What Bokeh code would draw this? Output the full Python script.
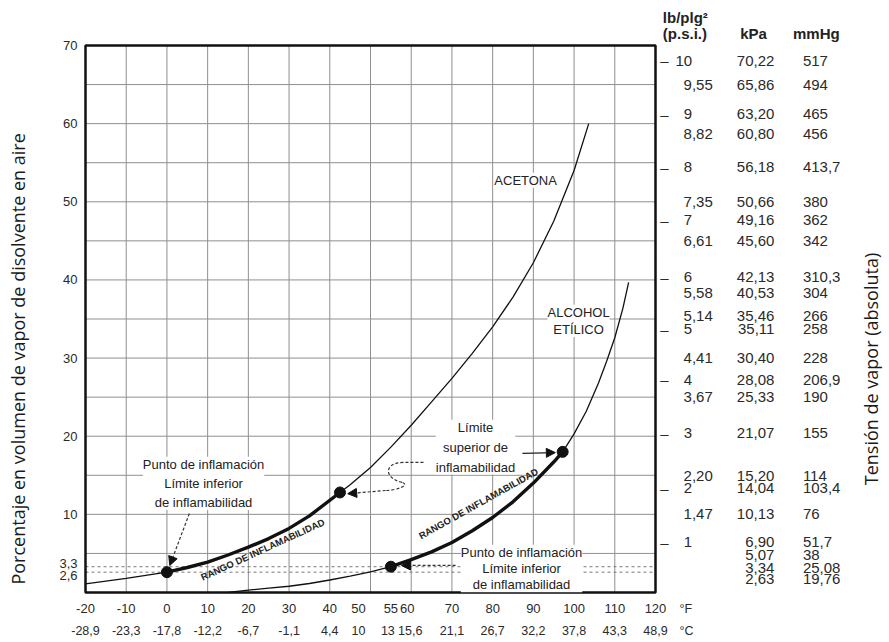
import math
from bokeh.plotting import figure
from bokeh.models import (ColumnDataSource, LabelSet, Label, Arrow, NormalHead, Range1d)
from bokeh.core.properties import value
from bokeh.embed import file_html
from bokeh.resources import INLINE

# ---------------- data ----------------
# vapour concentration curves (°F, % volume of vapour in air)
acetone_F = [-20, -10, 0, 5, 10, 15, 20, 25, 30, 35, 42.5, 45, 50, 55, 60, 65, 70, 75,
             80, 85, 90, 95, 100, 103.6]
acetone_pct = [1.1, 1.8, 2.6, 3.2, 3.9, 4.8, 5.8, 6.9, 8.2, 9.8, 12.8, 13.8, 16.0, 18.6,
               21.4, 24.4, 27.4, 30.6, 34.0, 37.8, 42.2, 47.5, 54.0, 60.0]
ethanol_F = [15, 20, 25, 30, 35, 40, 45, 50, 55, 60, 65, 70, 75, 80, 85, 90, 95, 97.2,
             100, 103, 106, 108, 110, 112, 113.4]
ethanol_pct = [0.0, 0.3, 0.55, 0.8, 1.15, 1.6, 2.1, 2.65, 3.3, 4.2, 5.2, 6.4, 7.9, 9.6,
               11.6, 14.0, 16.7, 18.0, 20.3, 23.2, 26.8, 29.6, 32.6, 36.4, 39.7]

# flammability points (°F, %)
acetone_flash = (0, 2.6)
acetone_upper = (42.5, 12.8)
ethanol_flash = (55, 3.3)
ethanol_upper = (97.2, 18.0)

# x tick labels
f_ticks = [-20, -10, 0, 10, 20, 30, 40, 50, 55, 60, 70, 80, 90, 100, 110, 120]
c_labels = ["-28,9", "-23,3", "-17,8", "-12,2", "-6,7", "-1,1", "4,4", "10", "13",
            "15,6", "21,1", "26,7", "32,2", "37,8", "43,3", "48,9"]
# y tick labels
y_ticks = [10, 20, 30, 40, 50, 60, 70, 3.3, 2.6]
# grid
x_grid = [-10, 0, 10, 20, 30, 40, 50, 60, 70, 80, 90, 100, 110]
y_grid = [5, 10, 15, 20, 25, 30, 35, 40, 45, 50, 55, 60, 65]

# vapour-pressure table
psi_vals = [10, 9.55, 9, 8.82, 8, 7.35, 7, 6.61, 6, 5.58, 5.14, 5, 4.41, 4, 3.67, 3,
            2.20, 2, 1.47, 1, None, None, None]
kpa_vals = [70.22, 65.86, 63.20, 60.80, 56.18, 50.66, 49.16, 45.60, 42.13, 40.53, 35.46,
            35.11, 30.40, 28.08, 25.33, 21.07, 15.20, 14.04, 10.13, 6.90, 5.07, 3.34, 2.63]
mmhg_vals = [517, 494, 465, 456, 413.7, 380, 362, 342, 310.3, 304, 266, 258, 228, 206.9,
             190, 155, 114, 103.4, 76, 51.7, 38, 25.08, 19.76]

# ---------------- helpers ----------------
def dec(v, nd=None):
    s = f"{v:.{nd}f}" if nd is not None else f"{v:g}"
    return s.replace(".", ",")

W, H = 889, 642
X0, X1, Y0, Y1 = -20, 120, 0, 70
# chart box in page pixels: left 85, right 655, top 45, bottom 592
XS = 570 / (X1 - X0)
YS = 547 / (Y1 - Y0)
x_range = Range1d(X0 - 85 / XS, X1 + (W - 655) / XS)
y_range = Range1d(Y0 - (H - 592) / YS, Y1 + 45 / YS)

TICKFONT = "Liberation Sans"
TXT = "#2a2a2a"
GRID = "#8f8f8f"

p = figure(width=W, height=H, x_range=x_range, y_range=y_range,
           x_axis_type=None, y_axis_type=None, output_backend="svg", toolbar_location=None,
           min_border=0)
p.outline_line_color = None
p.background_fill_color = "white"
p.border_fill_color = "white"

# grid
p.segment(x0=x_grid, y0=[Y0] * len(x_grid), x1=x_grid, y1=[Y1] * len(x_grid),
          line_color=GRID, line_width=1)
p.segment(x0=[X0] * len(y_grid), y0=y_grid, x1=[X1] * len(y_grid), y1=y_grid,
          line_color=GRID, line_width=1)
lv = [acetone_flash[1], ethanol_flash[1]]
p.segment(x0=[X0, X0], y0=lv, x1=[X1, X1], y1=lv, line_color="#777777",
          line_dash="3 3", line_width=1)

# curves
p.line(acetone_F, acetone_pct, line_color="#111111", line_width=1.3)
p.line(ethanol_F, ethanol_pct, line_color="#111111", line_width=1.3)

def segment(xs, ys, lo, hi):
    pts = [(x, y) for x, y in zip(xs, ys) if lo <= x <= hi]
    return [a for a, _ in pts], [b for _, b in pts]

ax, ay = segment(acetone_F, acetone_pct, acetone_flash[0], acetone_upper[0])
ex, ey = segment(ethanol_F, ethanol_pct, ethanol_flash[0], ethanol_upper[0])
p.line(ax, ay, line_color="#111111", line_width=3.4, line_join="round")
p.line(ex, ey, line_color="#111111", line_width=3.4, line_join="round")

# chart box
p.quad(left=[X0], right=[X1], bottom=[Y0], top=[Y1], fill_color=None,
       line_color="#111111", line_width=2.5)

pts_x = [acetone_flash[0], acetone_upper[0], ethanol_flash[0], ethanol_upper[0]]
pts_y = [acetone_flash[1], acetone_upper[1], ethanol_flash[1], ethanol_upper[1]]
p.scatter(pts_x, pts_y, size=11, color="#111111")

# ---------------- axis tick labels ----------------
xoff_f = {50: -12, 60: -4}
xoff_c = {50: -12, 55: -3, 60: -1}
xsrc = ColumnDataSource(dict(
    x=f_ticks, y=[Y0] * len(f_ticks),
    ft=[str(v) for v in f_ticks], ct=c_labels,
    xf=[xoff_f.get(v, 0) for v in f_ticks],
    xc=[xoff_c.get(v, 0) for v in f_ticks]))
p.add_layout(LabelSet(x="x", y="y", text="ft", source=xsrc, x_offset="xf", y_offset=-16,
                      text_align="center", text_baseline="middle",
                      text_font=value(TICKFONT), text_font_size="13px", text_color=TXT))
p.add_layout(LabelSet(x="x", y="y", text="ct", source=xsrc, x_offset="xc", y_offset=-38,
                      text_align="center", text_baseline="middle",
                      text_font=value(TICKFONT), text_font_size="12.5px", text_color=TXT))
unit_src = ColumnDataSource(dict(x=[125.9, 125.9], y=[Y0, Y0], t=["°F", "°C"], yo=[-16, -38]))
p.add_layout(LabelSet(x="x", y="y", text="t", source=unit_src, y_offset="yo",
                      text_align="left", text_baseline="middle",
                      text_font=value(TICKFONT), text_font_size="12.5px", text_color=TXT))

yoff = {3.3: 3, 2.6: -3}
ysrc = ColumnDataSource(dict(
    x=[X0] * len(y_ticks), y=y_ticks, t=[dec(v) for v in y_ticks],
    yo=[yoff.get(v, 0) for v in y_ticks]))
p.add_layout(LabelSet(x="x", y="y", text="t", source=ysrc, x_offset=-8, y_offset="yo",
                      text_align="right", text_baseline="middle",
                      text_font=value(TICKFONT), text_font_size="13px", text_color=TXT))

# ---------------- vapour-pressure table ----------------
# screen-pixel nudges (downwards) used in the original layout to keep rows apart
nudge_down = {60.80: 10, 42.13: 4, 40.53: 13, 35.46: -3, 35.11: 2, 15.20: 1,
              14.04: 2, 6.90: 3, 5.07: 2, 3.34: 1, 2.63: 7}
rows_y = [m / 760 * 100 for m in mmhg_vals]
row_off = [-nudge_down.get(k, 0) for k in kpa_vals]

int_idx = [i for i, v in enumerate(psi_vals) if v is not None and float(v).is_integer()]
dec_idx = [i for i, v in enumerate(psi_vals) if v is not None and not float(v).is_integer()]

TF = value(TICKFONT)
TS = "15px"
isrc = ColumnDataSource(dict(y=[rows_y[i] for i in int_idx],
                             t=[str(int(psi_vals[i])) for i in int_idx],
                             d=["–"] * len(int_idx),
                             yo=[row_off[i] for i in int_idx]))
p.add_layout(LabelSet(x=122.2, y="y", text="d", source=isrc, y_offset="yo",
                      text_align="center", text_baseline="middle",
                      text_font=TF, text_font_size=TS, text_color=TXT))
p.add_layout(LabelSet(x=129.0, y="y", text="t", source=isrc, y_offset="yo",
                      text_align="right", text_baseline="middle",
                      text_font=TF, text_font_size=TS, text_color=TXT))
dsrc = ColumnDataSource(dict(y=[rows_y[i] for i in dec_idx],
                             t=[dec(psi_vals[i], 2) for i in dec_idx],
                             yo=[row_off[i] for i in dec_idx]))
p.add_layout(LabelSet(x=126.9, y="y", text="t", source=dsrc, y_offset="yo",
                      text_align="left", text_baseline="middle",
                      text_font=TF, text_font_size=TS, text_color=TXT))
tsrc = ColumnDataSource(dict(y=rows_y, k=[dec(v, 2) for v in kpa_vals],
                             m=[dec(v) for v in mmhg_vals], yo=row_off))
p.add_layout(LabelSet(x=149.2, y="y", text="k", source=tsrc, y_offset="yo",
                      text_align="right", text_baseline="middle",
                      text_font=TF, text_font_size=TS, text_color=TXT))
p.add_layout(LabelSet(x=156.2, y="y", text="m", source=tsrc, y_offset="yo",
                      text_align="left", text_baseline="middle",
                      text_font=TF, text_font_size=TS, text_color=TXT))

hdr = dict(text_font=TICKFONT, text_font_size="15px", text_font_style="bold",
           text_color="#222222", text_baseline="middle")
p.add_layout(Label(x=121.8, y=73.6, text="lb/plg²", text_align="left", **hdr))
p.add_layout(Label(x=121.8, y=71.5, text="(p.s.i.)", text_align="left", **hdr))
p.add_layout(Label(x=144.1, y=71.5, text="kPa", text_align="center", **hdr))
p.add_layout(Label(x=159.5, y=71.5, text="mmHg", text_align="center", **hdr))

# ---------------- axis titles ----------------
ttl = dict(text_font="Open Sans", text_font_size="18px", text_color="#1a1a1a",
           text_align="center", text_baseline="middle", angle=math.pi / 2)
p.add_layout(Label(x=-36.5, y=29.9, text="Porcentaje en volumen de vapor de disolvente en aire", **ttl))
p.add_layout(Label(x=173.0, y=28.6, text="Tensión de vapor (absoluta)", **ttl))

# ---------------- annotations ----------------
ann = dict(text_font=TICKFONT, text_font_size="13px", text_color="#222222",
           text_align="center", text_baseline="middle", background_fill_color="white")
p.add_layout(Label(x=88.1, y=52.75, text="ACETONA", **ann))
p.add_layout(Label(x=101.1, y=34.75, text="ALCOHOL\nETÍLICO", text_line_height=1.15, **ann))
p.add_layout(Label(x=9.0, y=13.96, text="Punto de inflamación\nLímite inferior\nde inflamabilidad",
                   text_line_height=1.27, **ann))
p.add_layout(Label(x=75.8, y=18.6, text="Límite\nsuperior de\ninflamabilidad",
                   text_line_height=1.33, **ann))
p.add_layout(Label(x=87.1, y=3.07, text="Punto de inflamación\nLímite inferior\nde inflamabilidad",
                   text_line_height=1.08, **ann))

rng = dict(text_font=TICKFONT, text_font_size="9.5px", text_font_style="bold",
           text_color="#222222", text_align="center", text_baseline="middle")
p.add_layout(Label(x=23.5, y=5.5, text="RANGO DE INFLAMABILIDAD", angle=0.43, **rng))
p.add_layout(Label(x=76.5, y=11.4, text="RANGO DE INFLAMABILIDAD", angle=0.51, **rng))

def head():
    return NormalHead(size=9, fill_color="#111111", line_color="#111111", line_width=1)

p.add_layout(Arrow(end=head(), x_start=5.5, y_start=10.1, x_end=0.7, y_end=3.45,
                   line_dash="3 2", line_width=1.2, line_color="#333333"))
p.add_layout(Arrow(end=head(), x_start=87.3, y_start=17.8, x_end=95.4, y_end=17.9,
                   line_width=1.2, line_color="#222222"))
p.add_layout(Arrow(end=head(), x_start=70.9, y_start=3.46, x_end=57.6, y_end=3.46,
                   line_dash="3 2", line_width=1.2, line_color="#333333"))
# curly dashed leader towards acetone upper limit
p.line([63.0, 58.1], [16.64, 16.64], line_dash="3 2", line_width=1.2, line_color="#333333")
p.bezier(x0=[58.1, 57.9], y0=[16.64, 14.08], x1=[57.9, 53.7], y1=[14.08, 13.05],
         cx0=[53.2, 59.8], cy0=[16.64, 13.69], cx1=[53.2, 56.1], cy1=[14.59, 13.05],
         line_dash="3 2", line_width=1.2, line_color="#333333")
p.add_layout(Arrow(end=head(), x_start=53.7, y_start=13.05, x_end=44.4, y_end=12.65,
                   line_dash="3 2", line_width=1.2, line_color="#333333"))

open("out.html", "w").write(file_html(p, INLINE))
